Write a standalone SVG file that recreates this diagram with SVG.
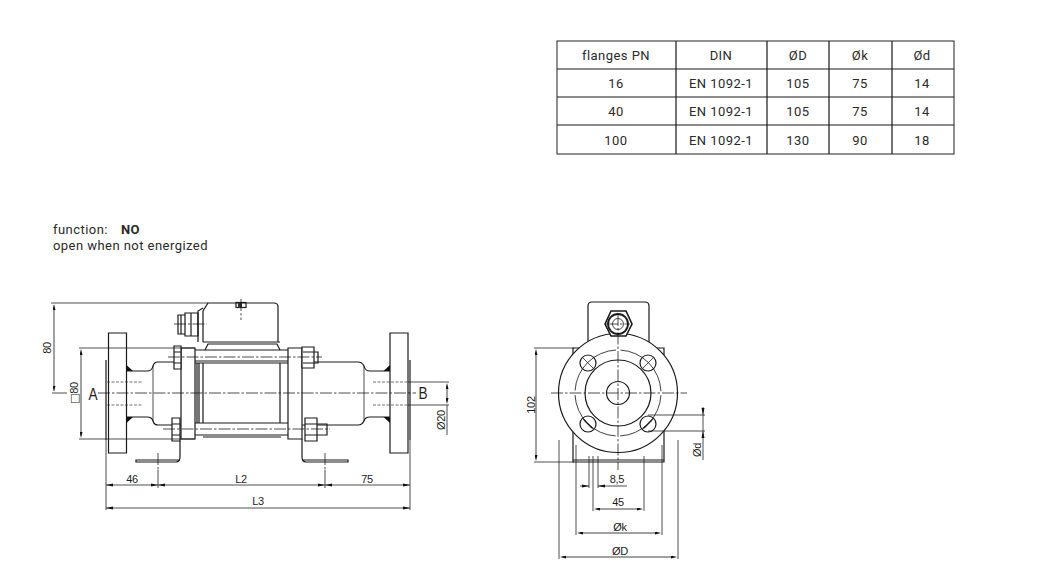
<svg xmlns="http://www.w3.org/2000/svg" width="1039" height="586" viewBox="0 0 1039 586">
<style>
text{font-family:"Liberation Sans",Arial,sans-serif;fill:#1c1c1c}
.t{font-family:Roboto,"Liberation Sans",sans-serif;font-size:13px;letter-spacing:.45px;text-anchor:middle;fill:#2a2a2a}
.d{font-size:11px;text-anchor:middle;letter-spacing:-.3px}
.o{fill:none;stroke:#1a1a1a;stroke-width:1.2}
.w{fill:#fff;stroke:#1a1a1a;stroke-width:1.2}
.n{fill:none;stroke:#222;stroke-width:.8}
.c{fill:none;stroke:#111;stroke-width:.75;stroke-dasharray:12 2 2.5 2}
.h{fill:none;stroke:#333;stroke-width:.7;stroke-dasharray:3 1.5}
.dim{fill:none;stroke:#111;stroke-width:.8;marker-start:url(#a);marker-end:url(#a)}
</style>
<defs>
<marker id="a" viewBox="0 0 8 4" refX="0" refY="2" markerWidth="7" markerHeight="3" markerUnits="userSpaceOnUse" orient="auto-start-reverse"><path d="M0 0L8 2L0 4z" fill="#111"/></marker>
</defs>
<g id="table">
<rect x="557" y="41" width="397" height="113" fill="#fff" stroke="#222" stroke-width="1"/>
<path class="o" d="M557 69H954M557 97H954M557 125H954M676 41V154M767 41V154M829 41V154M892 41V154"/>
<text class="t" x="616" y="60">flanges PN</text><text class="t" x="721" y="60">DIN</text><text class="t" x="798" y="60">ØD</text><text class="t" x="860" y="60">Øk</text><text class="t" x="922" y="60">Ød</text>
<text class="t" x="616" y="88">16</text><text class="t" x="721" y="88">EN 1092-1</text><text class="t" x="798" y="88">105</text><text class="t" x="860" y="88">75</text><text class="t" x="922" y="88">14</text>
<text class="t" x="616" y="116">40</text><text class="t" x="721" y="116">EN 1092-1</text><text class="t" x="798" y="116">105</text><text class="t" x="860" y="116">75</text><text class="t" x="922" y="116">14</text>
<text class="t" x="616" y="145">100</text><text class="t" x="721" y="145">EN 1092-1</text><text class="t" x="798" y="145">130</text><text class="t" x="860" y="145">90</text><text class="t" x="922" y="145">18</text>
</g>
<g id="function-note">
<text class="t" x="53" y="234" style="text-anchor:start">function:</text>
<text class="t" x="121" y="234" style="text-anchor:start;font-weight:700">NO</text>
<text class="t" x="53" y="250" style="text-anchor:start">open when not energized</text>
</g>
<g id="side-view">
<path class="w" d="M108.500 333H126.500V453H108.500Z"/>
<path class="w" d="M390 333H408V453H390Z"/>
<path class="o" d="M106 360V440M410 360V440"/>
<path class="o" d="M126.500 371H147Q152 371 153 366Q154 362 158 362H181M126.500 417H147Q152 417 153 421Q154 425 158 425H181"/>
<path class="o" d="M390 371H370Q365 371 364 366Q362 362 358 362H302M390 417H370Q365 417 364 421Q362 425 358 425H302"/>
<path class="n" d="M153 366V421M364 366V421"/>
<path d="M126.500 365L133 371H126.500ZM126.500 423L133 417H126.500ZM390 365L383.500 371H390ZM390 423L383.500 417H390Z" fill="#111"/>
<path class="h" d="M107 382H143M107 405H143M373 382H408M373 405H408"/>
<path class="w" d="M181 348H195V439H181ZM288 348H302V439H288Z"/>
<path class="o" d="M195 350H288M195 361H288M195 363H288M195 423H288M195 435H288M203 437H281M197 363V423M199 363V423M203 363V423M280 363V423"/>
<path class="o" d="M203 342H280M205 350L208 344H277L280 350"/>
<path class="o" d="M198 342V311L203 308M203 342V311L208 303H274Q278 303 278 307V342"/>
<rect class="o" x="236" y="302.500" width="10" height="5"/>
<path d="M238 303h4v5h-4z" fill="#333"/>
<path class="o" d="M178 315H185V334H178ZM185 313H198V336H185ZM181 315V334M191 313V336M198 318V331"/>
<path class="c" d="M174 324H207M241 299V320"/>
<path class="w" d="M174 346H181V369H174ZM302 347H314V368H302ZM172 418H180V441H172ZM305 418H317V441H305Z"/>
<path class="o" d="M174 352H181M174 363H181M303 352H314M303 363H314M172 424H180M172 435H180M305 424H317M305 435H317M314 352H318V363H314M317 424H327V435H317"/>
<path class="c" d="M168 357H322M163 429H330"/>
<path class="o" d="M180 441V457Q180 462 176 462H136V460H180M302 439V457Q302 462 306 462H348V460H302"/>
<path class="c" d="M98 393H416"/>
<path class="c" d="M158 453V470M325 453V470"/>
<path class="n" d="M51 303H208M52 393H67M79 348H195M79 439H195M158 470V488M325 470V488M408 382H449M408 405H449M106 440V510M410 440V510"/>
<path class="dim" d="M54 310V386"/>
<path class="dim" d="M81 355V432"/>
<path class="dim" d="M447 389V398"/>
<path class="n" d="M447 405V435"/>
<path class="n" d="M106 485H410M106 508H410"/>
<path d="M106 485l7-1.500v3zM158 485l-7-1.500v3zM158 485l7-1.500v3zM325 485l-7-1.500v3zM325 485l7-1.500v3zM410 485l-7-1.500v3zM106 508l7-1.500v3zM410 508l-7-1.500v3z" fill="#111"/>
<text transform="translate(93 400) scale(.85 1)" style="font-size:16px;text-anchor:middle">A</text>
<text transform="translate(423 399) scale(.85 1)" style="font-size:16px;text-anchor:middle">B</text>
<text class="d" x="132" y="483">46</text><text class="d" x="241" y="483">L2</text><text class="d" x="367" y="483">75</text><text class="d" x="258" y="505">L3</text>
<text class="d" transform="translate(51 348) rotate(-90)">80</text>
<text class="d" transform="translate(78 393) rotate(-90)"><tspan style="font-family:'DejaVu Sans',sans-serif">□</tspan>80</text>
<text class="d" transform="translate(445 420) rotate(-90)">Ø20</text>
</g>
<g id="end-view">
<path class="o" d="M588 344V306Q588 302 592 302H645Q649 302 649 306V344"/>
<path class="w" d="M573 348H664V462H573Z"/>
<path class="o" d="M573 460H664"/>
<circle class="w" cx="618" cy="393" r="59.500"/>
<circle cx="618" cy="393" r="43" fill="none" stroke="#111" stroke-width=".8" stroke-dasharray="63 4.540" stroke-dashoffset="-2.270"/>
<circle class="o" cx="618" cy="393" r="33"/>
<circle class="o" cx="618" cy="393" r="11.500"/>
<circle class="o" cx="588" cy="363" r="8"/><circle class="o" cx="648" cy="363" r="8"/><circle class="o" cx="588" cy="424" r="8"/><circle class="o" cx="648" cy="424" r="8"/>
<path class="n" d="M583 358L593 368M653 358L643 368M583 419L593 429M653 419L643 429"/>
<path class="o" d="M584 420L592 428M644 428L652 420" stroke-width="2"/>
<path class="w" d="M605 324L611 311H626L632 324L626 336H611Z" style="stroke-width:1.600"/>
<circle class="o" cx="618" cy="324" r="10" style="stroke-width:1.800"/>
<circle class="n" cx="618" cy="324" r="5.500"/>
<path class="c" d="M618 314V470M606 324H630M551 393H687"/>
<path class="n" d="M534 348H574M534 462H574M559 440V559M678 440V559M576 445V535M662 445V535M593 456V511M644 456V511M589 456V488M598 456V488M648 415H705M648 431H705"/>
<path class="n" d="M703 407V460M580 486H589M598 486H627"/>
<path class="dim" d="M536 355V455"/>
<path class="dim" d="M566 557H671"/>
<path class="dim" d="M583 533H655"/>
<path class="dim" d="M600 509H637"/>
<path d="M589 486l-7-1.500v3zM598 486l7-1.500v3zM703 415l-1.500-7h3zM703 431l-1.500 7h3z" fill="#111"/>
<text class="d" transform="translate(535 405) rotate(-90)">102</text>
<text class="d" transform="translate(701 450) rotate(-90)">Ød</text>
<text class="d" x="617" y="483">8,5</text><text class="d" x="618" y="506">45</text><text class="d" x="620" y="531">Øk</text><text class="d" x="620" y="555">ØD</text>
</g>
</svg>
